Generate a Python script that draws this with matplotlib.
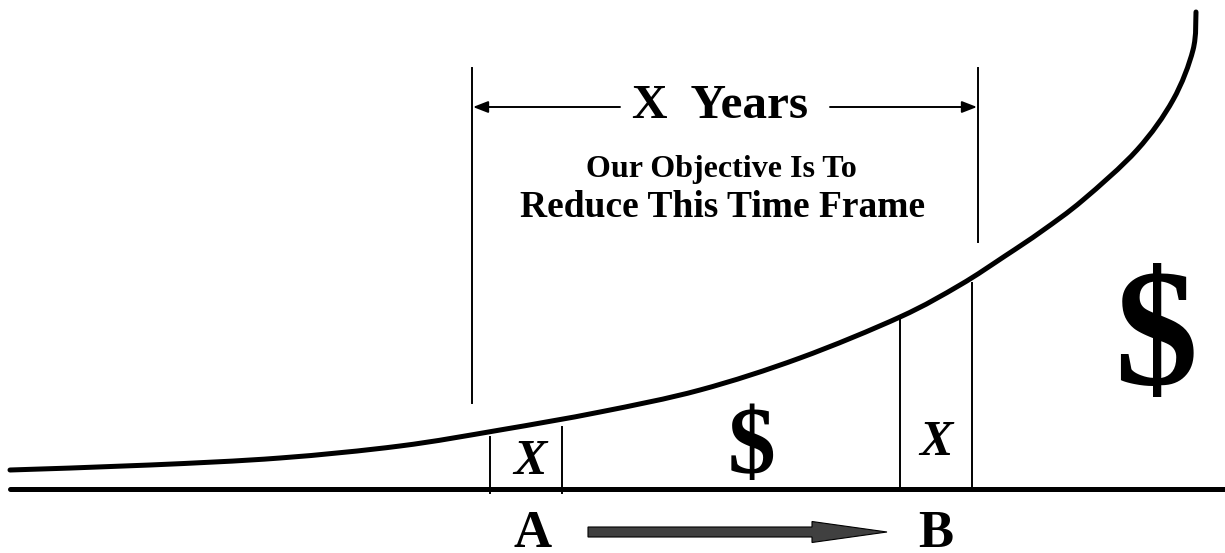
import numpy as np
import matplotlib.pyplot as plt
from matplotlib.patches import FancyArrow, PathPatch
from matplotlib.path import Path

# cost curve (pixel space, y down)
curve_x = [10, 150, 280, 400, 500, 600, 700, 800, 900, 960, 1005, 1042, 1083, 1137, 1173, 1193, 1196]
curve_y = [470, 465, 458, 446, 430, 412, 390, 358, 317, 285, 256, 231, 200, 150, 100, 50, 12]

base_y = 489
# vertical markers: x, top, bottom
span_lines = [(472, 68, 403), (978, 68, 242)]
box_lines = [(490, 437, 493), (562, 427, 493), (900, 317, 489), (972, 283, 489)]

title = "X  Years"
sub1 = "Our Objective Is To"
sub2 = "Reduce This Time Frame"

SERIF = "Liberation Serif"


def smooth_path(xs, ys):
    # catmull-rom through the points, drawn as cubic beziers
    p = np.column_stack([xs, ys]).astype(float)
    p = np.vstack([p[0], p, p[-1]])
    verts = [p[1]]
    codes = [Path.MOVETO]
    for i in range(1, len(p) - 2):
        c1 = p[i] + (p[i + 1] - p[i - 1]) / 6
        c2 = p[i + 1] - (p[i + 2] - p[i]) / 6
        verts += [c1, c2, p[i + 1]]
        codes += [Path.CURVE4] * 3
    return Path(verts, codes)


fig = plt.figure(figsize=(12.25, 5.53), dpi=100)
ax = fig.add_axes([0, 0, 1, 1])
ax.set_xlim(0, 1225)
ax.set_ylim(553, 0)
ax.axis('off')

ax.add_patch(PathPatch(smooth_path(curve_x, curve_y), fill=False, color='k', lw=3.6,
                       capstyle='round', joinstyle='round'))
ax.plot([10, 1225], [base_y, base_y], color='k', lw=3.6, solid_capstyle='round')

for (x, y0, y1) in span_lines + box_lines:
    ax.plot([x, x], [y0, y1], color='k', lw=1.4)

# X Years dimension arrows
arr = dict(arrowstyle='-|>,head_length=0.9,head_width=0.35', color='k', lw=1.4, shrinkA=0, shrinkB=0)
ax.annotate('', xy=(473, 107), xytext=(620, 107), arrowprops=arr)
ax.annotate('', xy=(977, 107), xytext=(830, 107), arrowprops=arr)

ax.text(720, 118, title, family=SERIF, weight='bold', fontsize=35.5, ha='center', va='baseline')
ax.text(721, 177, sub1, family=SERIF, weight='bold', fontsize=23, ha='center', va='baseline')
ax.text(723, 217, sub2, family=SERIF, weight='bold', fontsize=27, ha='center', va='baseline')

ax.text(752, 450, "$", family=SERIF, weight='bold', fontsize=69, ha='center', va='center')
ax.text(1156, 344, "$", family=SERIF, weight='bold', fontsize=120, ha='center', va='center')

ax.text(530, 462, "X", family=SERIF, weight='bold', style='italic', fontsize=36, ha='center', va='center')
ax.text(936, 443, "X", family=SERIF, weight='bold', style='italic', fontsize=36, ha='center', va='center')

ax.text(533, 547, "A", family=SERIF, weight='bold', fontsize=38, ha='center', va='baseline')
ax.text(936, 547, "B", family=SERIF, weight='bold', fontsize=38, ha='center', va='baseline')

ax.add_patch(FancyArrow(588, 532, 299, 0, width=10, head_width=21, head_length=75,
                        length_includes_head=True, facecolor='#404040', edgecolor='k', lw=0.8))

fig.savefig('out.png', dpi=100)
